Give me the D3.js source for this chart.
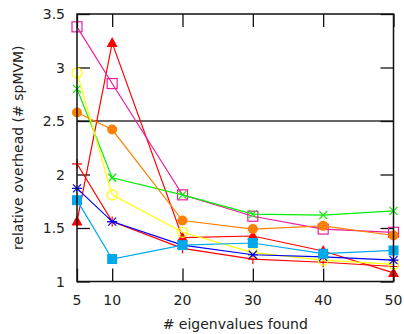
<!DOCTYPE html>
<html>
<head>
<meta charset="utf-8">
<script src="https://cdn.jsdelivr.net/npm/d3@7"></script>
<style>
  body { margin: 0; background: #fff; }
  text { font-family: "DejaVu Sans", sans-serif; }
</style>
</head>
<body>
<div id="chart"></div>
<script>
//relative overhead vs number of eigenvalues found

var xValues = [5, 10, 20, 30, 40, 50];
var xTicks = [5, 10, 20, 30, 40, 50];
var yTicks = [1, 1.5, 2, 2.5, 3, 3.5];

//one array per curve, same order as xValues
var redTri   = [1.56, 3.23, 1.41, 1.425, 1.285, 1.08];
var redPlus  = [2.10, 1.56, 1.31, 1.21, 1.18, 1.14];
var magenta  = [3.38, 2.85, 1.81, 1.61, 1.49, 1.46];
var green    = [2.80, 1.97, 1.81, 1.63, 1.62, 1.66];
var orange   = [2.58, 2.42, 1.57, 1.49, 1.52, 1.43];
var yellow   = [2.95, 1.81, 1.46, 1.27, 1.20, 1.16];
var blue     = [1.87, 1.56, 1.34, 1.25, 1.23, 1.20];
var cyan     = [1.76, 1.21, 1.34, 1.36, 1.26, 1.29];

var series = [
  {values: redTri,  color: "#ff0000", mark: "triup"},
  {values: redPlus, color: "#ff0000", mark: "plus"},
  {values: magenta, color: "#ee1c9c", mark: "osquare"},
  {values: green,   color: "#00ee00", mark: "cross"},
  {values: orange,  color: "#ff8000", mark: "fcircle"},
  {values: yellow,  color: "#ffff00", mark: "ocircle"},
  {values: blue,    color: "#0000ff", mark: "star"},
  {values: cyan,    color: "#00a8ec", mark: "fsquare"}
];

var w = 404,
    h = 334;
//plot box ("top" is taken by window.top, so prefixed names)
var pLeft = 77, pRight = 393.5, pTop = 14, pBottom = 281.5;

var svg = d3.select("#chart").append("svg")
    .attr("width", w)
    .attr("height", h);

var x = d3.scaleLinear().domain([5, 50]).range([pLeft, pRight]);
var y = d3.scaleLinear().domain([1, 3.5]).range([pBottom, pTop]);

//the horizontal line at 2.5
svg.append("line")
    .attr("x1", pLeft).attr("x2", pRight)
    .attr("y1", y(2.5)).attr("y2", y(2.5))
    .attr("stroke", "#333")
    .attr("stroke-width", 1.3);

//ticks pointing inwards on all four sides
var tl = 13;
var axL = svg.append("g").attr("transform", "translate(" + pLeft + ",0)")
    .call(d3.axisRight(y).tickValues(yTicks).tickSize(tl).tickFormat(""));
var axR = svg.append("g").attr("transform", "translate(" + pRight + ",0)")
    .call(d3.axisLeft(y).tickValues(yTicks).tickSize(tl).tickFormat(""));
var axB = svg.append("g").attr("transform", "translate(0," + pBottom + ")")
    .call(d3.axisTop(x).tickValues(xTicks).tickSize(tl).tickFormat(""));
var axT = svg.append("g").attr("transform", "translate(0," + pTop + ")")
    .call(d3.axisBottom(x).tickValues(xTicks).tickSize(tl).tickFormat(""));
[axL, axR, axB, axT].forEach(function(a){
  a.select(".domain").remove();
  a.selectAll("line").attr("stroke", "#111").attr("stroke-width", 1.3);
});

//tick labels
svg.append("g").selectAll("text")
  .data(yTicks)
  .enter().append("text")
    .attr("x", pLeft - 12)
    .attr("y", function(d){ return y(d) + 5; })
    .attr("text-anchor", "end")
    .attr("font-size", 14)
    .attr("fill", "#222")
    .text(function(d){ return d; });

svg.append("g").selectAll("text")
  .data(xTicks)
  .enter().append("text")
    .attr("x", function(d){ return x(d); })
    .attr("y", pBottom + 23)
    .attr("text-anchor", "middle")
    .attr("font-size", 14)
    .attr("fill", "#222")
    .text(function(d){ return d; });

//axis titles
svg.append("text")
    .attr("x", (pLeft + pRight) / 2)
    .attr("y", 329)
    .attr("text-anchor", "middle")
    .attr("font-size", 14)
    .attr("fill", "#222")
    .text("# eigenvalues found");

svg.append("text")
    .attr("transform", "translate(23," + ((pTop + pBottom) / 2) + ") rotate(-90)")
    .attr("text-anchor", "middle")
    .attr("font-size", 14)
    .attr("fill", "#222")
    .text("relative overhead (# spMVM)");

//curves
var line = d3.line()
    .x(function(d, i){ return x(xValues[i]); })
    .y(function(d){ return y(d); });

function drawMark(g, mark, color, cx, cy) {
  var s = 5;
  if (mark == "triup") {
    g.append("path").attr("d", "M" + cx + "," + (cy - 6) + "L" + (cx + 5.5) + "," + (cy + 4) + "L" + (cx - 5.5) + "," + (cy + 4) + "Z")
      .attr("fill", color);
  } else if (mark == "plus") {
    g.append("path").attr("d", "M" + (cx - s) + "," + cy + "H" + (cx + s) + "M" + cx + "," + (cy - s) + "V" + (cy + s))
      .attr("stroke", color).attr("stroke-width", 1.2);
  } else if (mark == "cross") {
    g.append("path").attr("d", "M" + (cx - 4) + "," + (cy - 4) + "L" + (cx + 4) + "," + (cy + 4) + "M" + (cx + 4) + "," + (cy - 4) + "L" + (cx - 4) + "," + (cy + 4))
      .attr("stroke", color).attr("stroke-width", 1.2);
  } else if (mark == "star") {
    g.append("path").attr("d", "M" + (cx - 4) + "," + (cy - 4) + "L" + (cx + 4) + "," + (cy + 4) + "M" + (cx + 4) + "," + (cy - 4) + "L" + (cx - 4) + "," + (cy + 4) +
        "M" + (cx - 5) + "," + cy + "H" + (cx + 5))
      .attr("stroke", color).attr("stroke-width", 1.2);
  } else if (mark == "osquare") {
    g.append("rect").attr("x", cx - 5).attr("y", cy - 5).attr("width", 10).attr("height", 10)
      .attr("fill", "none").attr("stroke", color).attr("stroke-width", 1.2);
  } else if (mark == "fsquare") {
    g.append("rect").attr("x", cx - 5).attr("y", cy - 5).attr("width", 10).attr("height", 10)
      .attr("fill", color);
  } else if (mark == "fcircle") {
    g.append("circle").attr("cx", cx).attr("cy", cy).attr("r", 5).attr("fill", color);
  } else if (mark == "ocircle") {
    g.append("circle").attr("cx", cx).attr("cy", cy).attr("r", 5)
      .attr("fill", "none").attr("stroke", color).attr("stroke-width", 1.2);
  }
}

series.forEach(function(s){
  var g = svg.append("g");
  g.append("path")
      .attr("d", line(s.values))
      .attr("fill", "none")
      .attr("stroke", s.color)
      .attr("stroke-width", 1.2);
  s.values.forEach(function(v, i){
    drawMark(g, s.mark, s.color, x(xValues[i]), y(v));
  });
});

//frame
svg.append("rect")
    .attr("x", pLeft).attr("y", pTop)
    .attr("width", pRight - pLeft).attr("height", pBottom - pTop)
    .attr("fill", "none")
    .attr("stroke", "#111")
    .attr("stroke-width", 1.5);
</script>
</body>
</html>
